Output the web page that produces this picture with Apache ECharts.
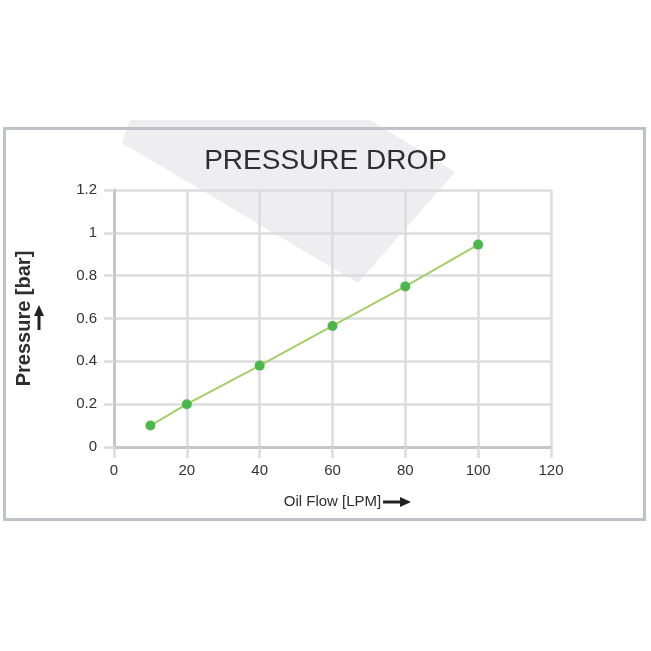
<!DOCTYPE html>
<html>
<head>
<meta charset="utf-8">
<script src="https://cdn.jsdelivr.net/npm/echarts@6/dist/echarts.min.js"></script>
<style>
  html, body { margin: 0; padding: 0; background: #fff; }
  #chart { width: 651px; height: 651px; }
</style>
</head>
<body>
<div id="chart"></div>
<script>
// oil flow [LPM] vs pressure drop [bar]
const flow = [10, 20, 40, 60, 80, 100]
const pressure = [0.10, 0.20, 0.38, 0.565, 0.75, 0.945]

const xTicks = [0, 20, 40, 60, 80, 100, 120]
const yTicks = [0, 0.2, 0.4, 0.6, 0.8, 1, 1.2]

const font = '"Liberation Sans", Arial, sans-serif'
const gridColor = '#dcdcdc'
const axisColor = '#c6c6c6'

const chart = echarts.init(document.getElementById('chart'))

chart.setOption({
  animation: false,
  backgroundColor: '#fff',
  textStyle: { fontFamily: font },
  title: {
    text: 'PRESSURE DROP',
    left: 'center',
    top: 142,
    textStyle: { fontFamily: font, fontSize: 28, fontWeight: 'normal', color: '#2e2e2e' }
  },
  grid: { left: 114, right: 100, top: 190, bottom: 204, containLabel: false },
  graphic: [
    {
      type: 'polygon', z: -10, silent: true,
      shape: { points: [[130, 120], [370, 120], [455, 172], [358, 283], [122, 143]] },
      style: { fill: '#eeeef0' }
    },
    {
      type: 'rect', z: -5, silent: true,
      shape: { x: 4.5, y: 128.5, width: 640, height: 391 },
      style: { fill: 'none', stroke: '#c0c2c9', lineWidth: 3 }
    },
    // arrow after x axis name
    {
      type: 'group', silent: true,
      children: [
        { type: 'line', shape: { x1: 383, y1: 502, x2: 402, y2: 502 }, style: { stroke: '#222', lineWidth: 3 } },
        { type: 'polygon', shape: { points: [[400, 497], [411, 502], [400, 507]] }, style: { fill: '#222' } }
      ]
    },
    // arrow next to y axis name
    {
      type: 'group', silent: true,
      children: [
        { type: 'line', shape: { x1: 39, y1: 330, x2: 39, y2: 313 }, style: { stroke: '#222', lineWidth: 3 } },
        { type: 'polygon', shape: { points: [[34, 316], [39, 305], [44, 316]] }, style: { fill: '#222' } }
      ]
    }
  ],
  xAxis: {
    type: 'value',
    min: xTicks[0],
    max: xTicks[xTicks.length - 1],
    interval: 20,
    name: 'Oil Flow [LPM]',
    nameLocation: 'middle',
    nameGap: 47,
    nameTextStyle: { fontFamily: font, fontSize: 15, color: '#2e2e2e' },
    axisLine: { lineStyle: { color: axisColor, width: 3 } },
    axisTick: { show: true, length: 11, lineStyle: { color: gridColor, width: 2.5 } },
    axisLabel: { margin: 16, fontSize: 15, color: '#333', fontFamily: font },
    splitLine: { show: true, lineStyle: { color: gridColor, width: 2.5 } }
  },
  yAxis: {
    type: 'value',
    min: yTicks[0],
    max: yTicks[yTicks.length - 1],
    interval: 0.2,
    name: 'Pressure [bar]',
    nameLocation: 'middle',
    nameGap: 80,
    nameTextStyle: { fontFamily: font, fontSize: 20, fontWeight: 'bold', color: '#2e2e2e' },
    axisLine: { show: true, lineStyle: { color: axisColor, width: 3 } },
    axisTick: { show: true, length: 10, lineStyle: { color: gridColor, width: 2.5 } },
    axisLabel: { margin: 17, fontSize: 15, color: '#333', fontFamily: font },
    splitLine: { show: true, lineStyle: { color: gridColor, width: 2.5 } }
  },
  series: [
    {
      type: 'line',
      data: flow.map((f, i) => [f, pressure[i]]),
      symbol: 'circle',
      symbolSize: 10,
      lineStyle: { color: '#a3cf68', width: 2 },
      itemStyle: { color: '#4cb74a' },
      z: 5
    }
  ]
})

window.addEventListener('resize', () => chart.resize())
</script>
</body>
</html>
